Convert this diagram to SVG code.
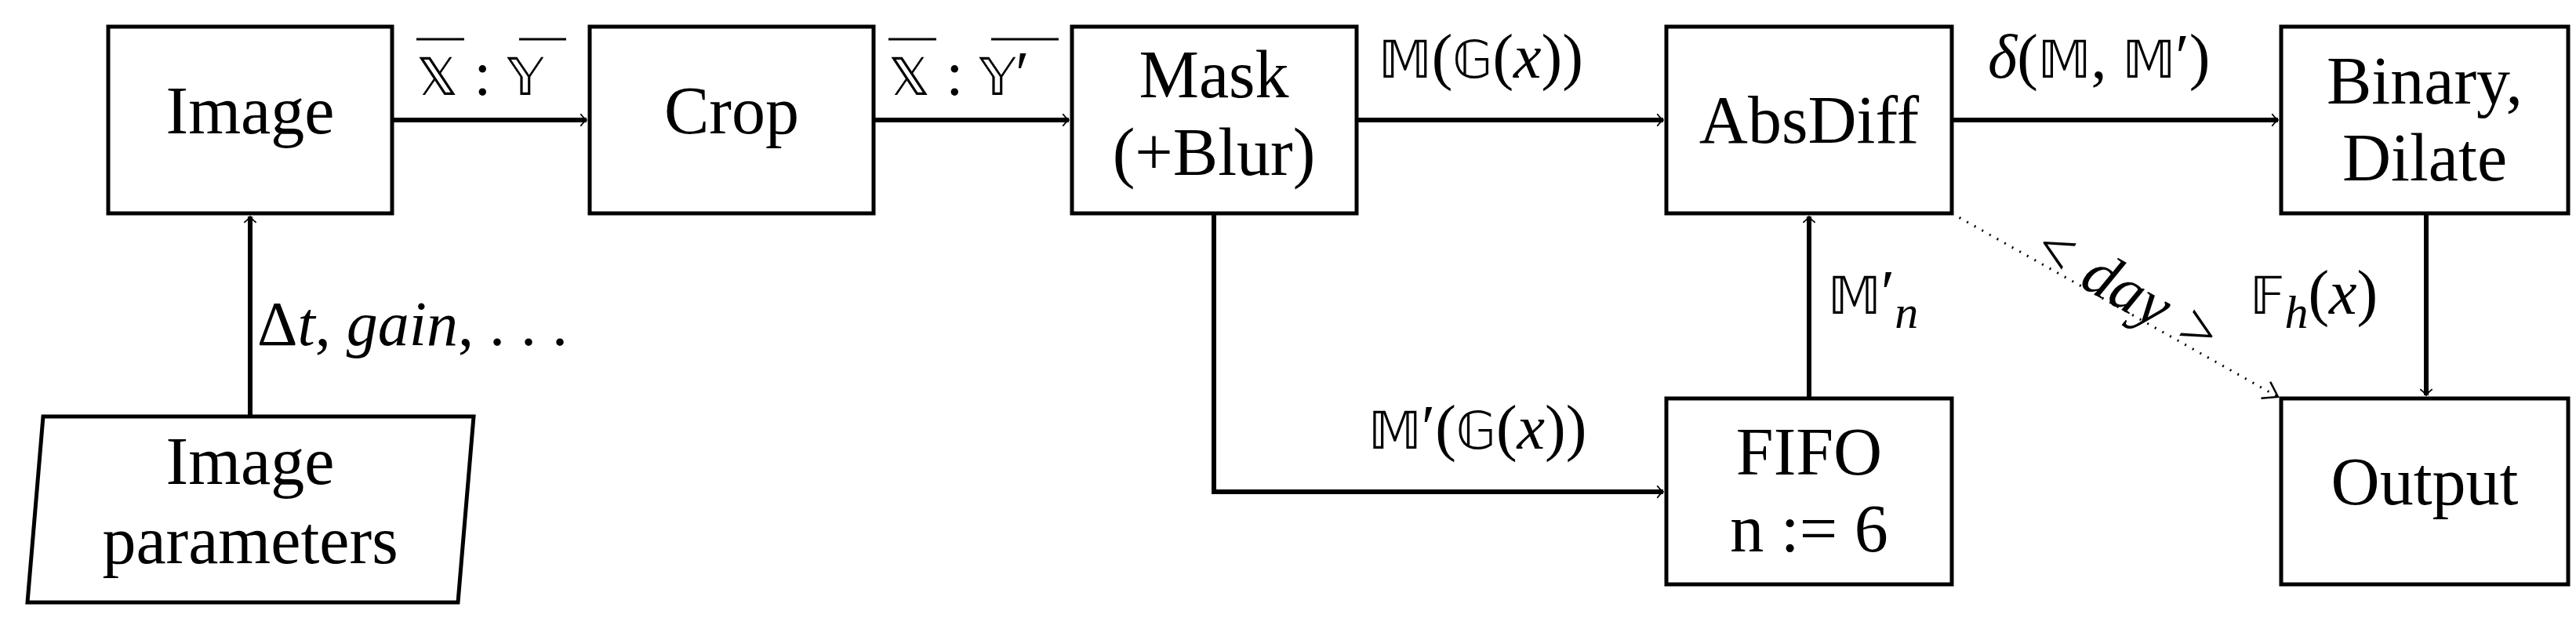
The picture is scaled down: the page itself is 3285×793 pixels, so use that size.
<svg xmlns="http://www.w3.org/2000/svg" width="3285" height="793" viewBox="0 0 3285 793">
<style>
.box{fill:#fff;stroke:#000;stroke-width:5}
.t{font-family:"Liberation Serif",serif;font-size:86px;text-anchor:middle;fill:#000}
.l{font-family:"Liberation Serif","DejaVu Serif",serif;font-size:80px;fill:#000}
.m{font-family:"DejaVu Sans",serif;font-size:66px}
.c{fill:none;stroke:#000;stroke-width:6}
.d{fill:none;stroke:#000;stroke-width:3;stroke-dasharray:2 9}
</style>
<defs>
<marker id="a" viewBox="0 0 20 20" refX="18" refY="10" markerWidth="7" markerHeight="7" markerUnits="userSpaceOnUse" orient="auto" style="overflow:visible">
<path d="M-4,-12 Q4,0 18,10 Q4,20 -4,32" transform="scale(1)" fill="none" stroke="#000" stroke-width="5"/>
</marker>
<marker id="b" viewBox="0 0 20 20" refX="10" refY="10" markerUnits="userSpaceOnUse" markerWidth="20" markerHeight="20" orient="auto" style="overflow:visible">
<path d="M-8,-2 L10,10 L-8,22" fill="none" stroke="#000" stroke-width="2.5"/>
</marker>
</defs>
<g id="connectors">
<path class="c" d="M500,153 H748" marker-end="url(#a)"/>
<path class="c" d="M1114,153 H1363" marker-end="url(#a)"/>
<path class="c" d="M1730,153 H2121" marker-end="url(#a)"/>
<path class="c" d="M2489,153 H2905" marker-end="url(#a)"/>
<path class="c" d="M319,531 V276" marker-end="url(#a)"/>
<path class="c" d="M1548,272 V627 H2121" marker-end="url(#a)"/>
<path class="c" d="M2307,508 V276" marker-end="url(#a)"/>
<path class="c" d="M3094,272 V504" marker-end="url(#a)"/>
<path class="d" d="M2489,272 L2905,506" marker-end="url(#b)"/>
<text class="l" x="531" y="121"><tspan class="m">𝕏</tspan> : <tspan class="m">𝕐</tspan></text>
<line x1="531" y1="50" x2="592" y2="50" stroke="#000" stroke-width="3"/>
<line x1="662" y1="50" x2="722" y2="50" stroke="#000" stroke-width="3"/>
<text class="l" x="1133" y="121"><tspan class="m">𝕏</tspan> : <tspan class="m">𝕐</tspan>′</text>
<line x1="1133" y1="50" x2="1194" y2="50" stroke="#000" stroke-width="3"/>
<line x1="1264" y1="50" x2="1350" y2="50" stroke="#000" stroke-width="3"/>
<text class="l" x="328" y="440">Δ<tspan font-style="italic">t</tspan>, <tspan font-style="italic">gain</tspan>, . . .</text>
<text class="l" x="1758" y="99"><tspan class="m">𝕄</tspan>(<tspan class="m">𝔾</tspan>(<tspan font-style="italic">x</tspan>))</text>
<text class="l" x="2535" y="99"><tspan font-style="italic">δ</tspan>(<tspan class="m">𝕄</tspan>, <tspan class="m">𝕄</tspan>′)</text>
<text class="l" x="1745" y="572"><tspan class="m">𝕄</tspan>′(<tspan class="m">𝔾</tspan>(<tspan font-style="italic">x</tspan>))</text>
<text class="l" x="2331" y="400"><tspan class="m">𝕄</tspan>′<tspan font-style="italic" font-size="60" dy="18">n</tspan></text>
<text class="l" x="2869" y="400"><tspan class="m">𝔽</tspan><tspan font-style="italic" font-size="60" dy="18">h</tspan><tspan dy="-18">(</tspan><tspan font-style="italic">x</tspan>)</text>
<text class="l" font-style="italic" font-size="66" text-anchor="middle" transform="translate(2700,392) rotate(29.3)">&lt; day &gt;</text>
</g>
<g id="image"><rect class="box" x="138" y="34" width="362" height="238"/><text class="t" x="319" y="170">Image</text></g>
<g id="crop"><rect class="box" x="752" y="34" width="362" height="238"/><text class="t" x="933" y="170">Crop</text></g>
<g id="mask"><rect class="box" x="1367" y="34" width="363" height="238"/><text class="t" x="1548" y="124">Mask</text><text class="t" x="1548" y="223">(+Blur)</text></g>
<g id="absdiff"><rect class="box" x="2125" y="34" width="364" height="238"/><text class="t" x="2307" y="182">AbsDiff</text></g>
<g id="binary"><rect class="box" x="2909" y="34" width="366" height="238"/><text class="t" x="3092" y="132">Binary,</text><text class="t" x="3092" y="230">Dilate</text></g>
<g id="params"><polygon class="box" points="55,531 604,531 584,768 35,768"/><text class="t" x="319" y="617">Image</text><text class="t" x="319" y="718">parameters</text></g>
<g id="fifo"><rect class="box" x="2125" y="508" width="364" height="237"/><text class="t" x="2307" y="605">FIFO</text><text class="t" x="2307" y="703">n := 6</text></g>
<g id="output"><rect class="box" x="2909" y="508" width="366" height="237"/><text class="t" x="3092" y="643">Output</text></g>
</svg>
